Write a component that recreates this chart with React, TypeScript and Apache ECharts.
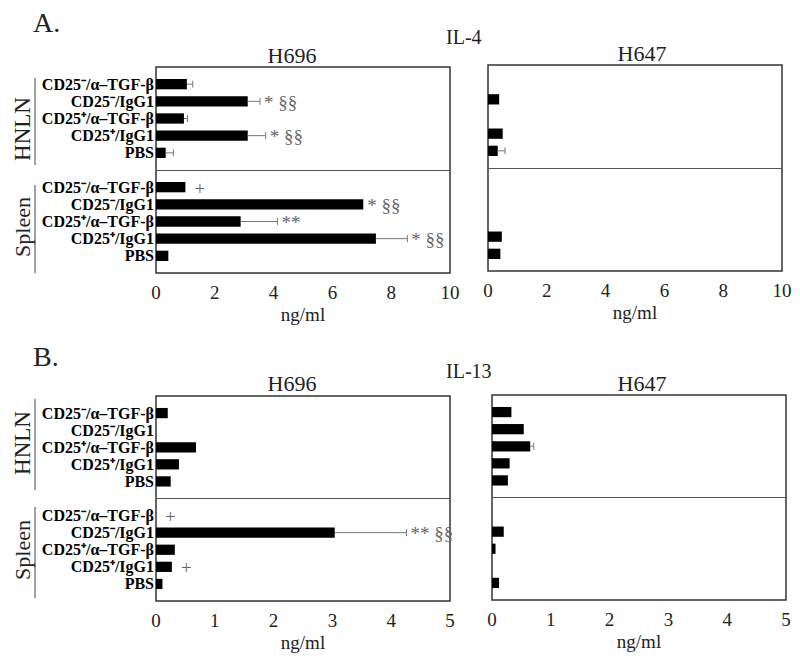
import React, { useEffect, useRef } from "react";
import * as echarts from "echarts";

const CATEGORIES = ["CD25⁻/α–TGF-β", "CD25⁻/IgG1", "CD25⁺/α–TGF-β", "CD25⁺/IgG1", "PBS"];
const GROUPS = ["HNLN", "Spleen"];

// order: HNLN (5 rows) then Spleen (5 rows)
const IL4_H696 = [1.05, 3.12, 0.95, 3.12, 0.33, 1.0, 7.05, 2.88, 7.48, 0.42];
const IL4_H696_ERR = [0.2, 0.42, 0.12, 0.61, 0.26, 0, 0, 1.25, 1.07, 0];
const IL4_H696_ANN = ["", "* §§", "", "* §§", "", "+", "* §§", "**", "* §§", ""];

const IL4_H647 = [0, 0.38, 0, 0.5, 0.33, 0, 0, 0, 0.47, 0.42];
const IL4_H647_ERR = [0, 0, 0, 0, 0.25, 0, 0, 0, 0, 0];
const IL4_H647_ANN = ["", "", "", "", "", "", "", "", "", ""];

const IL13_H696 = [0.2, 0, 0.68, 0.39, 0.25, 0, 3.04, 0.32, 0.27, 0.11];
const IL13_H696_ERR = [0, 0, 0, 0, 0, 0, 1.22, 0, 0, 0];
const IL13_H696_ANN = ["", "", "", "", "", "+", "** §§", "", "+", ""];

const IL13_H647 = [0.33, 0.54, 0.65, 0.3, 0.27, 0, 0.2, 0.06, 0, 0.12];
const IL13_H647_ERR = [0, 0, 0.06, 0, 0, 0, 0, 0, 0, 0];
const IL13_H647_ANN = ["", "", "", "", "", "", "", "", "", ""];

const SERIF = "Liberation Serif";

const rowOf = (i: number) => (i < 5 ? i : i + 1);

function makeSeries(idx: number, vals: number[], errs: number[], anns: string[]) {
  return {
    type: "custom",
    xAxisIndex: idx,
    yAxisIndex: idx,
    clip: false,
    encode: { x: 0, y: 1 },
    data: vals.map((v, i) => [v, rowOf(i), errs[i]]),
    renderItem: (params: any, api: any) => {
      const v = api.value(0);
      const row = api.value(1);
      const err = api.value(2);
      const p0 = api.coord([0, row]);
      const p1 = api.coord([v, row]);
      const h = api.size([0, 1])[1] * 0.6;
      const children: any[] = [];
      if (v > 0) {
        children.push({
          type: "rect",
          shape: { x: p0[0], y: p0[1] - h / 2, width: p1[0] - p0[0], height: h },
          style: { fill: "#000" },
        });
      }
      let endX = p1[0];
      if (err > 0) {
        const pe = api.coord([v + err, row]);
        endX = pe[0];
        children.push({
          type: "line",
          shape: { x1: p1[0], y1: p1[1], x2: pe[0], y2: pe[1] },
          style: { stroke: "#777", lineWidth: 1 },
        });
        children.push({
          type: "line",
          shape: { x1: pe[0], y1: pe[1] - 3.5, x2: pe[0], y2: pe[1] + 3.5 },
          style: { stroke: "#777", lineWidth: 1 },
        });
      }
      const ann = anns[params.dataIndex];
      if (ann) {
        children.push({
          type: "text",
          x: endX + (ann[0] === "+" ? 9 : 4),
          y: p1[1] + 1,
          style: {
            text: ann,
            fill: "#666",
            font: `19px ${SERIF}`,
            textAlign: "left",
            textVerticalAlign: "middle",
          },
        });
      }
      return { type: "group", children };
    },
    markLine: {
      silent: true,
      symbol: ["none", "none"],
      label: { show: false },
      lineStyle: { color: "#555", width: 1, type: "solid" },
      data: [{ yAxis: 5 }],
    },
  };
}

export default function App() {
  const ref = useRef<HTMLDivElement>(null);
  useEffect(() => {
    document.body.style.margin = "0";
    const chart = echarts.init(ref.current!, null, { renderer: "svg" });
    const gridPos = [
      { left: 156, top: 67, width: 294, height: 206 },
      { left: 488, top: 65, width: 294, height: 206 },
      { left: 156, top: 396, width: 294, height: 205 },
      { left: 492, top: 395, width: 294, height: 205 },
    ];
    const grid = gridPos.map((g) => ({
      ...g,
      show: true,
      borderColor: "#333",
      borderWidth: 1.5,
      backgroundColor: "transparent",
      containLabel: false,
      outerBoundsMode: "none",
    }));
    const xMax = [10, 10, 5, 5];
    const xInt = [2, 2, 1, 1];
    const xAxis = gridPos.map((_, i) => ({
      type: "value",
      gridIndex: i,
      min: 0,
      max: xMax[i],
      interval: xInt[i],
      axisLine: { show: false },
      axisTick: { show: false },
      splitLine: { show: false },
      axisLabel: { fontFamily: SERIF, fontSize: 19, color: "#222", margin: 10 },
      name: "ng/ml",
      nameLocation: "middle",
      nameGap: 32,
      nameTextStyle: { fontFamily: SERIF, fontSize: 19, color: "#222" },
    }));
    const yAxis = gridPos.map((_, i) => ({
      type: "value",
      gridIndex: i,
      min: -1,
      max: 11,
      interval: 1,
      inverse: true,
      axisLine: { show: false },
      axisTick: { show: false },
      splitLine: { show: false },
      axisLabel: {
        show: i % 2 === 0,
        fontFamily: SERIF,
        fontWeight: "bold",
        fontSize: 16,
        color: "#000",
        margin: 2,
        formatter: (val: number) => {
          if (val >= 0 && val <= 4) return CATEGORIES[val];
          if (val >= 6 && val <= 10) return CATEGORIES[val - 6];
          return "";
        },
      },
    }));
    const txt = (x: number, y: number, text: string, size: number, extra: any = {}) => ({
      type: "text",
      x,
      y,
      ...extra,
      style: {
        text,
        font: `${size}px ${SERIF}`,
        fill: "#222",
        textAlign: "center",
        textVerticalAlign: "middle",
        ...(extra.style || {}),
      },
    });
    const vline = (x: number, y1: number, y2: number) => ({
      type: "line",
      shape: { x1: x, y1, x2: x, y2 },
      style: { stroke: "#444", lineWidth: 1 },
    });
    const graphic = [
      txt(33, 22, "A.", 28, { style: { textAlign: "left" } }),
      txt(446, 37, "IL-4", 20, { style: { textAlign: "left" } }),
      txt(292, 55, "H696", 22),
      txt(642, 53, "H647", 22),
      txt(22, 129, GROUPS[0], 23, { rotation: Math.PI / 2 }),
      txt(22, 227, GROUPS[1], 22, { rotation: Math.PI / 2 }),
      vline(35, 78, 165),
      vline(35, 185, 273),
      txt(33, 356, "B.", 28, { style: { textAlign: "left" } }),
      txt(446, 371, "IL-13", 20, { style: { textAlign: "left" } }),
      txt(292, 383, "H696", 22),
      txt(642, 383, "H647", 22),
      txt(22, 443, GROUPS[0], 23, { rotation: Math.PI / 2 }),
      txt(22, 550, GROUPS[1], 22, { rotation: Math.PI / 2 }),
      vline(35, 399, 490),
      vline(35, 507, 598),
    ];
    chart.setOption({
      animation: false,
      backgroundColor: "#fff",
      grid,
      xAxis,
      yAxis,
      graphic,
      series: [
        makeSeries(0, IL4_H696, IL4_H696_ERR, IL4_H696_ANN),
        makeSeries(1, IL4_H647, IL4_H647_ERR, IL4_H647_ANN),
        makeSeries(2, IL13_H696, IL13_H696_ERR, IL13_H696_ANN),
        makeSeries(3, IL13_H647, IL13_H647_ERR, IL13_H647_ANN),
      ],
    });
    return () => chart.dispose();
  }, []);
  return <div ref={ref} style={{ width: 800, height: 661 }} />;
}
